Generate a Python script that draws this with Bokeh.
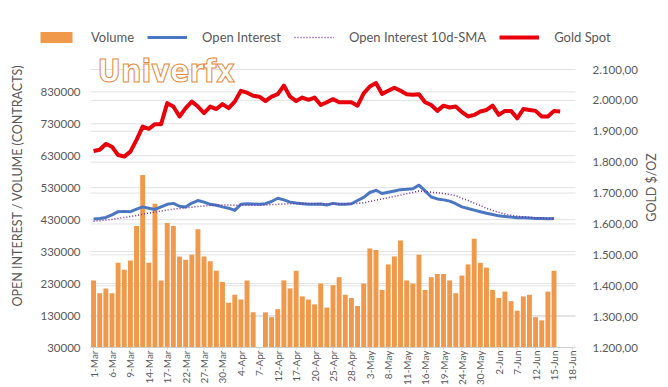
import numpy as np
from math import pi
from bokeh.plotting import figure
from bokeh.core.properties import value
from bokeh.models import (Range1d, Label, Legend, LegendItem, ColumnDataSource)
from bokeh.embed import file_html
from bokeh.resources import INLINE

# ---------------- data ----------------
dates = ["1-Mar", "2-Mar", "3-Mar", "6-Mar", "7-Mar", "8-Mar", "9-Mar", "10-Mar", "13-Mar", "14-Mar",
         "15-Mar", "16-Mar", "17-Mar", "20-Mar", "21-Mar", "22-Mar", "23-Mar", "24-Mar", "27-Mar", "28-Mar",
         "29-Mar", "30-Mar", "31-Mar", "3-Apr", "4-Apr", "5-Apr", "6-Apr", "7-Apr", "10-Apr", "11-Apr",
         "12-Apr", "13-Apr", "14-Apr", "17-Apr", "18-Apr", "19-Apr", "20-Apr", "21-Apr", "24-Apr", "25-Apr",
         "26-Apr", "27-Apr", "28-Apr", "1-May", "2-May", "3-May", "4-May", "5-May", "8-May", "9-May",
         "10-May", "11-May", "12-May", "15-May", "16-May", "17-May", "18-May", "19-May", "22-May", "23-May",
         "24-May", "25-May", "26-May", "30-May", "31-May", "1-Jun", "2-Jun", "5-Jun", "6-Jun", "7-Jun",
         "8-Jun", "9-Jun", "12-Jun", "13-Jun", "14-Jun", "15-Jun", "16-Jun", "17-Jun", "18-Jun"]

volume = [240000, 200000, 215000, 200000, 295000, 273000, 302000, 410000, 570000, 295000,
          480000, 240000, 420000, 410000, 315000, 305000, 320000, 400000, 315000, 300000,
          270000, 235000, 170000, 195000, 180000, 240000, 140000, None, 140000, 125000,
          150000, 240000, 215000, 270000, 190000, 180000, 165000, 230000, 155000, 225000,
          250000, 195000, 185000, 160000, 230000, 340000, 335000, 210000, 290000, 315000,
          365000, 240000, 230000, 320000, 210000, 250000, 260000, 260000, 240000, 200000,
          255000, 290000, 370000, 295000, 280000, 210000, 185000, 205000, 175000, 145000,
          190000, 195000, 125000, 115000, 205000, 270000]

open_interest = [432000, 434000, 437000, 445000, 455000, 456000, 455000, 463000, 470000, 466000,
                 462000, 470000, 478000, 481000, 472000, 470000, 482000, 490000, 485000, 478000,
                 475000, 470000, 466000, 459000, 478000, 480000, 479000, 478000, 480000, 487000,
                 497000, 492000, 485000, 482000, 480000, 478000, 478000, 479000, 476000, 481000,
                 478000, 478000, 480000, 490000, 500000, 515000, 522000, 512000, 516000, 520000,
                 524000, 525000, 527000, 538000, 520000, 501000, 495000, 492000, 488000, 480000,
                 470000, 465000, 460000, 455000, 450000, 446000, 442000, 440000, 438000, 436000,
                 436000, 435000, 434000, 434000, 433000, 434000]

oi_sma = [425000, 427000, 429000, 431000, 434000, 437000, 440000, 443000, 447000, 451000,
          454000, 457000, 460000, 463000, 465000, 467000, 469000, 471000, 473000, 475000,
          476000, 476000, 476000, 475000, 475000, 475000, 475000, 475000, 476000, 477000,
          478000, 479000, 480000, 480000, 481000, 481000, 481000, 480000, 479000, 479000,
          479000, 479000, 480000, 481000, 483000, 487000, 491000, 495000, 499000, 503000,
          507000, 511000, 515000, 520000, 518000, 516000, 514000, 512000, 509000, 505000,
          497000, 490000, 482000, 474000, 466000, 459000, 453000, 448000, 444000, 441000,
          439000, 437000, 436000, 435000, 434000, 433000]

gold = [1836, 1840, 1859, 1850, 1823, 1818, 1834, 1872, 1915, 1908,
        1923, 1923, 1991, 1980, 1948, 1975, 1996, 1980, 1959, 1980,
        1972, 1988, 1975, 1996, 2031, 2025, 2015, 2012, 1998, 2012,
        2020, 2048, 2012, 1998, 2009, 2002, 2009, 1985, 1994, 2004,
        1994, 1994, 1994, 1983, 2023, 2045, 2056, 2021, 2031, 2041,
        2031, 2020, 2018, 2020, 1994, 1985, 1966, 1983, 1977, 1980,
        1962, 1948, 1953, 1964, 1969, 1983, 1953, 1966, 1966, 1942,
        1972, 1969, 1966, 1948, 1948, 1966, 1964]

left_ticks = [30000, 130000, 230000, 330000, 430000, 530000, 630000, 730000, 830000]
left_tick_labels = ["30000", "130000", "230000", "330000", "430000", "530000",
                    "630000", "730000", "830000"]
right_ticks = [1200, 1300, 1400, 1500, 1600, 1700, 1800, 1900, 2000, 2100]
right_tick_labels = ["1.200,00", "1.300,00", "1.400,00", "1.500,00", "1.600,00",
                     "1.700,00", "1.800,00", "1.900,00", "2.000,00", "2.100,00"]
x_label_positions = [0, 3, 6, 9, 12, 15, 18, 21, 24, 27, 30, 33, 36, 39, 42, 45, 48, 51,
                     54, 57, 60, 63, 66, 69, 72, 75, 78]

# ---------------- geometry / styling ----------------
W, H = 668, 387
PLOT_L, PLOT_R, PLOT_T, PLOT_B = 90, 575, 69, 347   # plot area in page pixels
LEFT_MIN, LEFT_MAX = 30000, 900000      # left axis pairs with ...
RIGHT_MIN, RIGHT_MAX = 1200, 2100       # ... right axis
NCAT = len(dates)
PX_PER_CAT = (PLOT_R - PLOT_L) / NCAT
LEFT_PER_PX = (LEFT_MAX - LEFT_MIN) / (PLOT_B - PLOT_T)
RIGHT_PER_PX = (RIGHT_MAX - RIGHT_MIN) / (PLOT_B - PLOT_T)


def xd(px):
    return -0.5 + (px - PLOT_L) / PX_PER_CAT


def yl(px):
    return LEFT_MIN + (PLOT_B - px) * LEFT_PER_PX


def yr(px):
    return RIGHT_MIN + (PLOT_B - px) * RIGHT_PER_PX


ORANGE = "#F0994A"
BLUE = "#4A76C2"
PURPLE = "#7030A0"
RED = "#E8000B"
GREY_TXT = "#595959"
GRID = "#E2E2E2"
AXIS = "#D0D0D0"
FONT = "Lato"

n = len(volume)
src = ColumnDataSource(dict(
    x=list(range(n)),
    volume=[np.nan if v is None else v for v in volume],
    oi=open_interest,
    sma=oi_sma,
))
gsrc = ColumnDataSource(dict(x=list(range(len(gold))), gold=gold))

# the frame covers the whole canvas, so no text gets clipped; the scales are set so
# that the plot area sits where the reference has it
p = figure(width=W, height=H, output_backend="svg", toolbar_location=None,
           x_range=Range1d(xd(0), xd(W)), y_range=Range1d(yl(H), yl(0)),
           x_axis_location=None, y_axis_location=None, min_border=0)
p.extra_y_ranges = {"gold": Range1d(yr(H), yr(0))}
p.outline_line_color = None
p.background_fill_color = "white"
p.border_fill_color = "white"
p.grid.visible = False

# horizontal grid lines for both value scales
p.segment(x0=[-0.5] * len(left_ticks), x1=[NCAT - 0.5] * len(left_ticks),
          y0=left_ticks, y1=left_ticks, line_color=GRID, line_width=1)
p.segment(x0=[-0.5] * len(right_ticks), x1=[NCAT - 0.5] * len(right_ticks),
          y0=right_ticks, y1=right_ticks, line_color=GRID, line_width=1, y_range_name="gold")

# data glyphs
vb = p.vbar(x="x", top="volume", bottom=LEFT_MIN, width=0.8, fill_color=ORANGE,
            line_color=None, source=src)
oil = p.line("x", "oi", line_color=BLUE, line_width=3, line_join="round", source=src)
smal = p.line("x", "sma", line_color=PURPLE, line_width=1.5, line_dash="1 2", source=src)
gl = p.line("x", "gold", line_color=RED, line_width=4, line_join="round",
            y_range_name="gold", source=gsrc)

# category axis: base line, ticks and rotated date labels
p.segment(x0=[-0.5], x1=[NCAT - 0.5], y0=[LEFT_MIN], y1=[LEFT_MIN], line_color=AXIS, line_width=1)
p.segment(x0=x_label_positions, x1=x_label_positions,
          y0=[LEFT_MIN] * len(x_label_positions), y1=[yl(PLOT_B + 2)] * len(x_label_positions),
          line_color=AXIS, line_width=1)
p.text(x=x_label_positions, y=[yl(PLOT_B + 3)] * len(x_label_positions),
       text=[dates[i] for i in x_label_positions], angle=pi / 2,
       text_align="right", text_baseline="middle", text_font=value(FONT),
       text_font_size=value("10px"), text_color=GREY_TXT)

# value-axis tick labels and titles
p.text(x=[xd(80)] * len(left_ticks), y=left_ticks, text=left_tick_labels,
       text_align="right", text_baseline="middle", text_font=value(FONT),
       text_font_size=value("11.5px"), text_color=GREY_TXT)
p.text(x=[xd(592)] * len(right_ticks), y=right_ticks, text=right_tick_labels,
       text_align="left", text_baseline="middle", text_font=value(FONT),
       text_font_size=value("11.5px"), text_color=GREY_TXT, y_range_name="gold")
p.text(x=[xd(17)], y=[yl(185)], text=["OPEN INTEREST / VOLUME (CONTRACTS)"], angle=pi / 2,
       text_align="center", text_baseline="middle", text_font=value(FONT),
       text_font_size=value("12.5px"), text_color=GREY_TXT)
p.text(x=[xd(651)], y=[yl(187)], text=["GOLD $/OZ"], angle=pi / 2,
       text_align="center", text_baseline="middle", text_font=value(FONT),
       text_font_size=value("12.5px"), text_color=GREY_TXT)

# watermark
p.add_layout(Label(x=xd(97), y=yl(70), text="Univerfx", text_font="DejaVu Sans Condensed",
                   text_font_style="bold", text_font_size="32px", text_color="white",
                   text_outline_color="#E58A3C", text_baseline="middle"))

# legend (location measured from the frame's bottom-left corner)
legend = Legend(items=[LegendItem(label="Volume", renderers=[vb]),
                       LegendItem(label="Open Interest", renderers=[oil]),
                       LegendItem(label="Open Interest 10d-SMA", renderers=[smal]),
                       LegendItem(label="Gold Spot", renderers=[gl])],
                orientation="horizontal", location=(36, H - 45),
                glyph_width=40, glyph_height=14, label_standoff=15, spacing=13,
                padding=0, margin=0, border_line_color=None, background_fill_alpha=0,
                label_text_font=FONT, label_text_font_size="13px", label_text_color=GREY_TXT)
p.add_layout(legend)

open("out.html", "w").write(file_html(p, INLINE))
